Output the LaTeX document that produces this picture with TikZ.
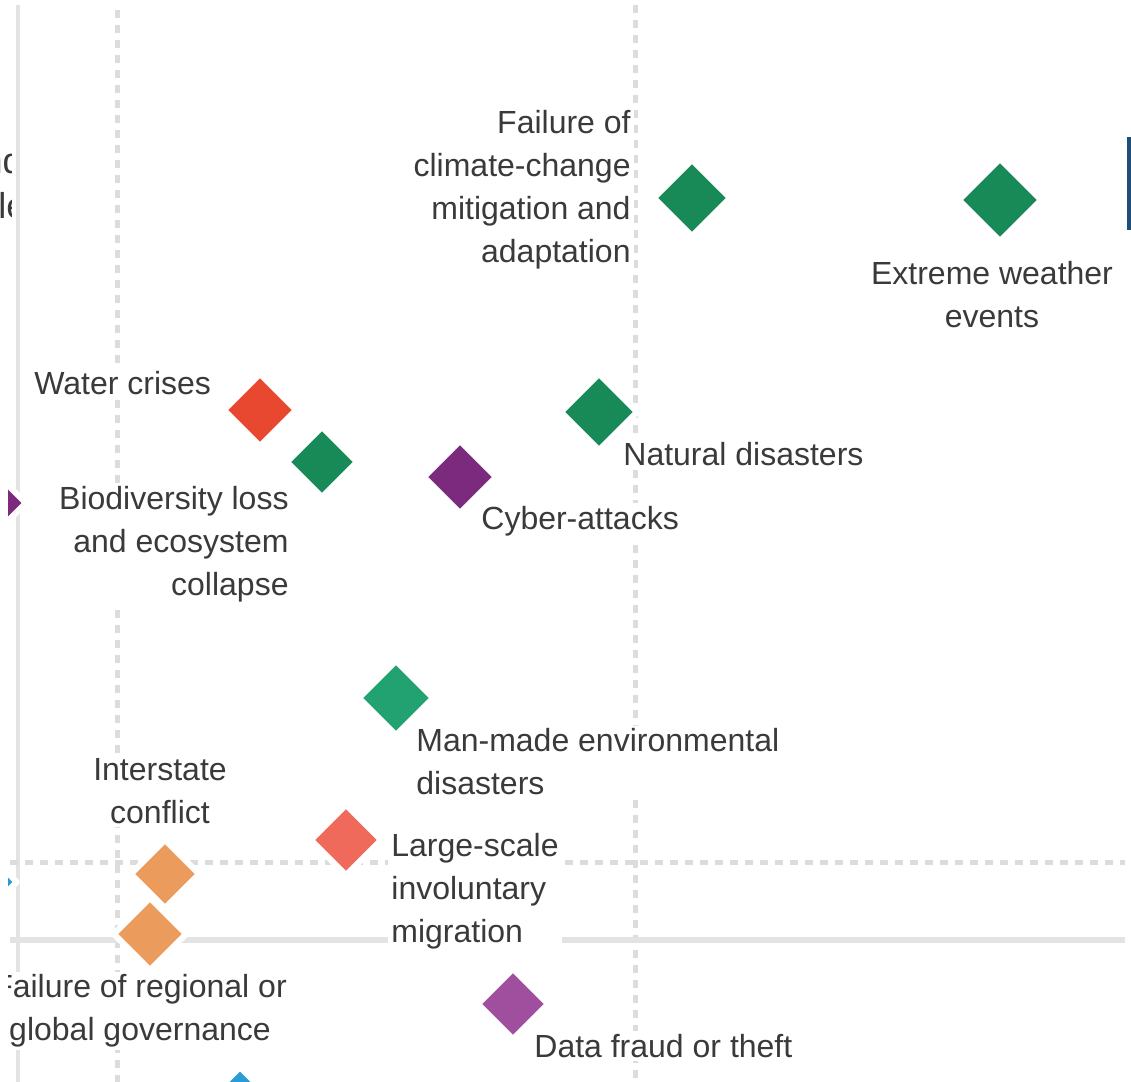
\documentclass[tikz,border=0pt]{standalone}
\usepackage{fontspec}
\setmainfont{Liberation Sans}
\usetikzlibrary{shapes.geometric}
\definecolor{riskgreen}{HTML}{178A58}
\definecolor{riskgreenlt}{HTML}{22A271}
\definecolor{riskred}{HTML}{E8482F}
\definecolor{risksalmon}{HTML}{EF6A5B}
\definecolor{riskorange}{HTML}{EB9B5C}
\definecolor{riskpurple}{HTML}{7B2A7E}
\definecolor{riskpurplelt}{HTML}{A04F9F}
\definecolor{riskblue}{HTML}{2B9BD8}
\definecolor{gridgray}{HTML}{DCDCDC}
\definecolor{txtgray}{HTML}{3A3A3A}
\definecolor{barblue}{HTML}{1F4E79}
\tikzset{
	risk/.style={diamond,draw=white,line width=3pt,inner sep=0pt,minimum size=#1},
	risk/.default=37pt,
	lbl/.style={text=txtgray,fill=white,inner sep=1.5pt,font=\fontsize{16}{21.5}\selectfont},
	dotgrid/.style={gridgray,line width=2.5pt,dash pattern=on 4pt off 3.5pt},
	solidgrid/.style={gridgray!80,line width=3pt}
}
\begin{document}
\begin{tikzpicture}[x=0.5pt,y=-0.5pt,line join=round]
	\useasboundingbox (0,0) rectangle (1131,1082);
	% left panel, cut off
	\begin{scope}
		\clip (0,0) rectangle (11,1082);
		\node[anchor=base east,inner sep=0pt,text=txtgray,font=\fontsize{18}{22}\selectfont] (leftA) at (23,173) {nd};
		\node[anchor=base west,inner sep=0pt,text=txtgray,font=\fontsize{18}{22}\selectfont] (leftB) at (-2,218) {le};
	\end{scope}
	\fill[barblue] (1127,137) rectangle (1131,230);
	\begin{scope}
		\clip (8,0) rectangle (1131,1082);
		% grid
		\draw[gridgray!80,line width=2pt] (18,5) -- (18,1082);
		\draw[dotgrid] (117,10) -- (117,1082);
		\draw[dotgrid] (635,5) -- (635,1082);
		\draw[dotgrid] (10,862) -- (1125,862);
		\draw[solidgrid] (10,940) -- (1125,940);
		% labels
		\node[lbl,anchor=east,align=right] (climfail-l) at (634,190) {Failure of\\climate-change\\mitigation and\\adaptation};
		\node[lbl,align=center] (extweather-l) at (992,295) {Extreme weather\\events};
		\node[lbl,anchor=west] (water-l) at (31,383) {Water crises};
		\node[lbl,anchor=east,align=right] (biodiv-l) at (292,544) {Biodiversity loss\\and ecosystem\\collapse};
		\node[lbl,anchor=west] (natdis-l) at (620,454) {Natural disasters};
		\node[lbl,anchor=west] (cyber-l) at (478,521) {Cyber-attacks};
		\node[lbl,anchor=west,align=left] (manmade-l) at (413,762) {Man-made environmental\\disasters};
		\node[lbl,align=center] (interstate-l) at (160,791) {Interstate\\conflict};
		\node[lbl,anchor=west,align=left] (migration-l) at (388,891) {Large-scale\\involuntary\\migration};
		\node[lbl,align=center] (govfail-l) at (140,1011) {Failure of regional or\\global governance};
		\node[lbl,anchor=west] (datafraud-l) at (531,1046) {Data fraud or theft};
		% risks
		\node[risk=39.3pt,fill=riskgreen] (climfail) at (692,198) {};
		\node[risk=42.3pt,fill=riskgreen] (extweather) at (1000,200) {};
		\node[risk=37.3pt,fill=riskred] (water) at (260,410) {};
		\node[risk=36.3pt,fill=riskgreen] (biodiv) at (322,462) {};
		\node[risk=39.3pt,fill=riskgreen] (natdis) at (599,412) {};
		\node[risk=37.3pt,fill=riskpurple] (cyber) at (460,477) {};
		\node[risk=38.3pt,fill=riskgreenlt] (manmade) at (396,698) {};
		\node[risk=36.3pt,fill=risksalmon] (migration) at (346,840) {};
		\node[risk=35.3pt,fill=riskorange] (interstate) at (165,874) {};
		\node[risk=37.3pt,fill=riskorange] (govfail) at (150,934) {};
		\node[risk=36.3pt,fill=riskpurplelt] (datafraud) at (513,1004) {};
		\node[risk,fill=riskblue] (bluecut) at (240,1103) {};
		\node[risk=36pt,fill=riskpurple] (purplecut) at (-9,503) {};
		\node[risk=34pt,fill=riskblue] (bluedot) at (-16,882) {};
	\end{scope}
\end{tikzpicture}
\end{document}
